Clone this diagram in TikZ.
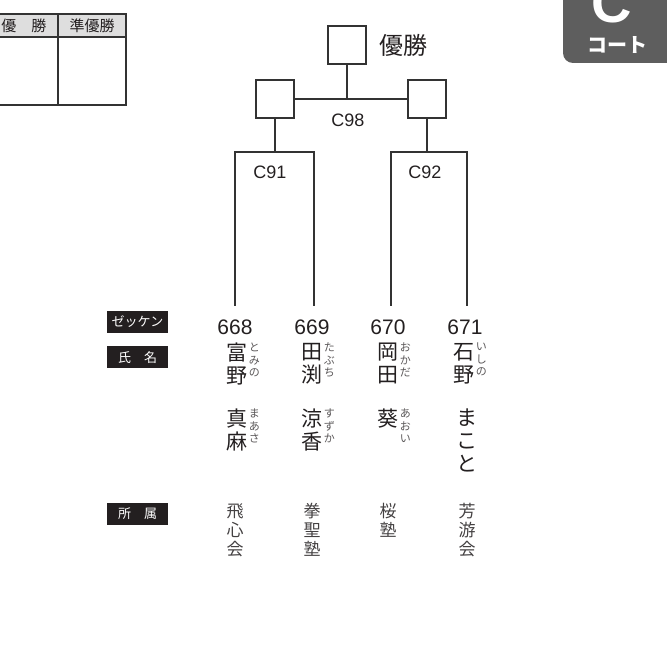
\documentclass[tikz,border=0pt]{standalone}
\usepackage{fontspec}
\setmainfont{Liberation Sans}
\newfontfamily\jp{Noto Sans CJK JP}
\usepackage{tikz}
\usetikzlibrary{positioning}
\definecolor{ink}{HTML}{231F20}
\definecolor{wire}{HTML}{333333}
\definecolor{badge}{HTML}{5E5E5E}
\definecolor{headgray}{HTML}{DEDEDE}
\tikzset{
  winbox/.style={draw=wire, line width=1.4pt, minimum width=38pt, minimum height=38pt, inner sep=0pt},
  bar/.style={draw=wire, line width=1.4pt},
  tag/.style={fill=ink, text=white, minimum width=61pt, minimum height=22pt, inner sep=0pt,
    font=\jp\fontsize{13}{13}\selectfont},
  num/.style={font=\fontsize{21}{21}\selectfont, text=ink, inner sep=0pt},
  mlabel/.style={font=\fontsize{18}{18}\selectfont, text=ink, inner sep=0pt},
  kanji/.style={font=\jp\fontsize{21}{23}\selectfont, align=center, inner sep=0pt, text=ink},
  ruby/.style={font=\jp\fontsize{11}{12.5}\selectfont, align=center, inner sep=0pt, text=ink!75,
    anchor=north west, xshift=1pt},
  club/.style={font=\jp\fontsize{17}{19}\selectfont, align=center, inner sep=0pt, text=ink!85,
    anchor=north},
}
\begin{document}
\begin{tikzpicture}[x=1pt,y=-1pt]
  \useasboundingbox (0,0) rectangle (667,652);
  % result table, cut at the left edge
  \fill[headgray] (-5,14) rectangle (126,37);
  \draw[wire, line width=1.2pt] (-5,14) rectangle (126,105);
  \draw[wire, line width=1.2pt] (-5,37) -- (126,37);
  \draw[wire, line width=1.2pt] (58,14) -- (58,105);
  \node[font=\jp\fontsize{15}{15}\selectfont, text=ink] (hwin) at (24,26) {優\hspace{1em}勝};
  \node[font=\jp\fontsize{15}{15}\selectfont, text=ink] (hrun) at (92,26) {準優勝};
  % court badge
  \fill[badge, rounded corners=10pt] (563,-20) rectangle (690,63);
  \node[font=\bfseries\fontsize{56}{56}\selectfont, text=white, anchor=base] (court) at (612,23) {C};
  \node[font=\jp\bfseries\fontsize{20}{20}\selectfont, text=white] (courttxt) at (617,45) {コート};
  % bracket
  \node[winbox] (final) at (347,45) {};
  \node[font=\jp\fontsize{24}{24}\selectfont, text=ink, right=9pt of final] (champ) {優勝};
  \node[winbox] (semiL) at (275,99) {};
  \node[winbox] (semiR) at (427,99) {};
  \coordinate (j98) at (final |- semiL);
  \draw[bar] (semiL.east) -- (semiR.west);
  \draw[bar] (final.south) -- (j98);
  \node[mlabel] (m98) at (348,120) {C98};
  \coordinate (t91) at (275,152);
  \coordinate (t92) at (427,152);
  \coordinate (e668) at (235,306);
  \coordinate (e669) at (314,306);
  \coordinate (e670) at (391,306);
  \coordinate (e671) at (467,306);
  \draw[bar] (semiL.south) -- (t91);
  \draw[bar] (e668) -- (e668 |- t91) -- (e669 |- t91) -- (e669);
  \draw[bar] (semiR.south) -- (t92);
  \draw[bar] (e670) -- (e670 |- t92) -- (e671 |- t92) -- (e671);
  \node[mlabel] (m91) at (270,172) {C91};
  \node[mlabel] (m92) at (425,172) {C92};
  % row labels
  \node[tag] (tagnum) at (137.5,322) {ゼッケン};
  \node[tag] (tagname) at (137.5,357.5) {氏\hspace{1em}名};
  \node[tag] (tagclub) at (137.5,514) {所\hspace{1em}属};
  % players
  \node[num] (n668) at (235,327) {668};
  \node[num] (n669) at (312,327) {669};
  \node[num] (n670) at (388,327) {670};
  \node[num] (n671) at (465,327) {671};
  \node[kanji, anchor=north] (fam668) at (237,343) {富\\野};
  \node[ruby] (rf668) at (fam668.north east) {と\\み\\の};
  \node[kanji, anchor=north] (fam669) at (312,343) {田\\渕};
  \node[ruby] (rf669) at (fam669.north east) {た\\ぶ\\ち};
  \node[kanji, anchor=north] (fam670) at (388,343) {岡\\田};
  \node[ruby] (rf670) at (fam670.north east) {お\\か\\だ};
  \node[kanji, anchor=north] (fam671) at (464,343) {石\\野};
  \node[ruby] (rf671) at (fam671.north east) {い\\し\\の};
  \node[kanji, anchor=north] (giv668) at (237,409) {真\\麻};
  \node[ruby] (rg668) at (giv668.north east) {ま\\あ\\さ};
  \node[kanji, anchor=north] (giv669) at (312,409) {涼\\香};
  \node[ruby] (rg669) at (giv669.north east) {す\\ず\\か};
  \node[kanji, anchor=north] (giv670) at (388,409) {葵};
  \node[ruby] (rg670) at (giv670.north east) {あ\\お\\い};
  \node[kanji, anchor=north] (giv671) at (467,409) {ま\\こ\\と};
  \node[club] (c668) at (235,503) {飛\\心\\会};
  \node[club] (c669) at (312,503) {拳\\聖\\塾};
  \node[club] (c670) at (388,503) {桜\\塾};
  \node[club] (c671) at (467,503) {芳\\游\\会};
\end{tikzpicture}
\end{document}
